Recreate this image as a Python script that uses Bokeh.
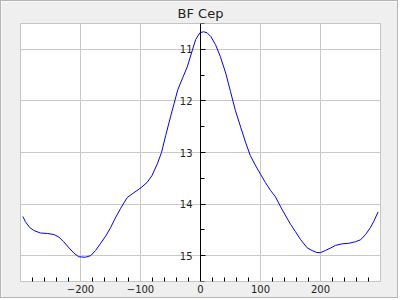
from bokeh.plotting import figure
from bokeh.models import Range1d, LinearAxis, FixedTicker
from bokeh.embed import file_html
from bokeh.resources import INLINE

title = "BF Cep"
phase = [-296, -292, -285, -278, -267, -255, -244, -236, -228, -219, -211, -203, -192, -183, -175,
         -167, -158, -150, -142, -133, -122, -111, -99, -89, -81, -72, -65, -58, -50, -44,
         -38, -30, -22, -15, -8, -1, 5, 11, 17, 25, 33, 42, 50, 58, 67,
         75, 83, 92, 100, 108, 117, 125, 133, 142, 150, 158, 167, 178, 186, 194,
         200, 208, 217, 225, 236, 247, 258, 267, 275, 283, 289, 296]
mag = [14.24, 14.34, 14.45, 14.51, 14.56, 14.57, 14.59, 14.64, 14.73, 14.85, 14.95, 15.02, 15.03, 15.0, 14.9,
       14.77, 14.62, 14.46, 14.27, 14.08, 13.87, 13.78, 13.68, 13.58, 13.45, 13.22, 13.0, 12.67, 12.31, 12.05,
       11.79, 11.56, 11.34, 11.07, 10.81, 10.68, 10.66, 10.68, 10.75, 10.91, 11.14, 11.46, 11.82, 12.18, 12.51,
       12.80, 13.06, 13.26, 13.42, 13.58, 13.74, 13.86, 14.04, 14.23, 14.39, 14.53, 14.69, 14.85, 14.90, 14.94,
       14.94, 14.90, 14.85, 14.80, 14.77, 14.76, 14.73, 14.69, 14.59, 14.46, 14.33, 14.15]
x_ticks = [-200, -100, 0, 100, 200]
x_minor = [v for v in range(-280, 300, 20) if v % 100 != 0]
y_ticks = [11, 12, 13, 14, 15]
y_minor = [10.5, 11.5, 12.5, 13.5, 14.5, 15.5]

p = figure(width=398, height=298, output_backend="svg", toolbar_location=None,
           x_range=Range1d(-300, 300), y_range=Range1d(15.5, 10.5),
           x_axis_location=None, y_axis_location=None,
           min_border_left=19, min_border_right=19, min_border_top=0, min_border_bottom=18)
p.styles = {"border": "1px solid #b4b4b4"}
p.background_fill_color = "white"
p.border_fill_color = "#efefef"
p.outline_line_color = "#c4c4c4"
p.outline_line_width = 1

p.title.text = title
p.title.align = "center"
p.title.text_font = "DejaVu Sans"
p.title.text_font_size = "13px"
p.title.text_font_style = "normal"
p.title.text_color = "#222222"
p.title.standoff = 5

xaxis = LinearAxis(ticker=FixedTicker(ticks=x_ticks, minor_ticks=x_minor))
xaxis.axis_line_color = None
xaxis.major_tick_in = 0
xaxis.major_tick_out = 0
xaxis.minor_tick_in = 4
xaxis.minor_tick_out = 0
xaxis.minor_tick_line_color = "black"
xaxis.major_label_text_font = "DejaVu Sans"
xaxis.major_label_text_font_size = "10px"
xaxis.major_label_text_color = "#222222"
xaxis.major_label_standoff = 3
p.add_layout(xaxis, "below")

yaxis = LinearAxis(ticker=FixedTicker(ticks=y_ticks, minor_ticks=y_minor), fixed_location=0)
yaxis.axis_line_color = "black"
yaxis.major_tick_in = 5
yaxis.major_tick_out = 0
yaxis.minor_tick_in = 4
yaxis.minor_tick_out = 0
yaxis.major_label_text_font = "DejaVu Sans"
yaxis.major_label_text_font_size = "10px"
yaxis.major_label_text_color = "#222222"
yaxis.major_label_standoff = 8
p.add_layout(yaxis, "left")

p.xgrid.ticker = FixedTicker(ticks=x_ticks)
p.ygrid.ticker = FixedTicker(ticks=y_ticks)
p.grid.grid_line_color = "#c8c8c8"
p.grid.grid_line_width = 1

p.line(phase, mag, line_color="blue", line_width=1)

open("out.html", "w").write(file_html(p, INLINE))
